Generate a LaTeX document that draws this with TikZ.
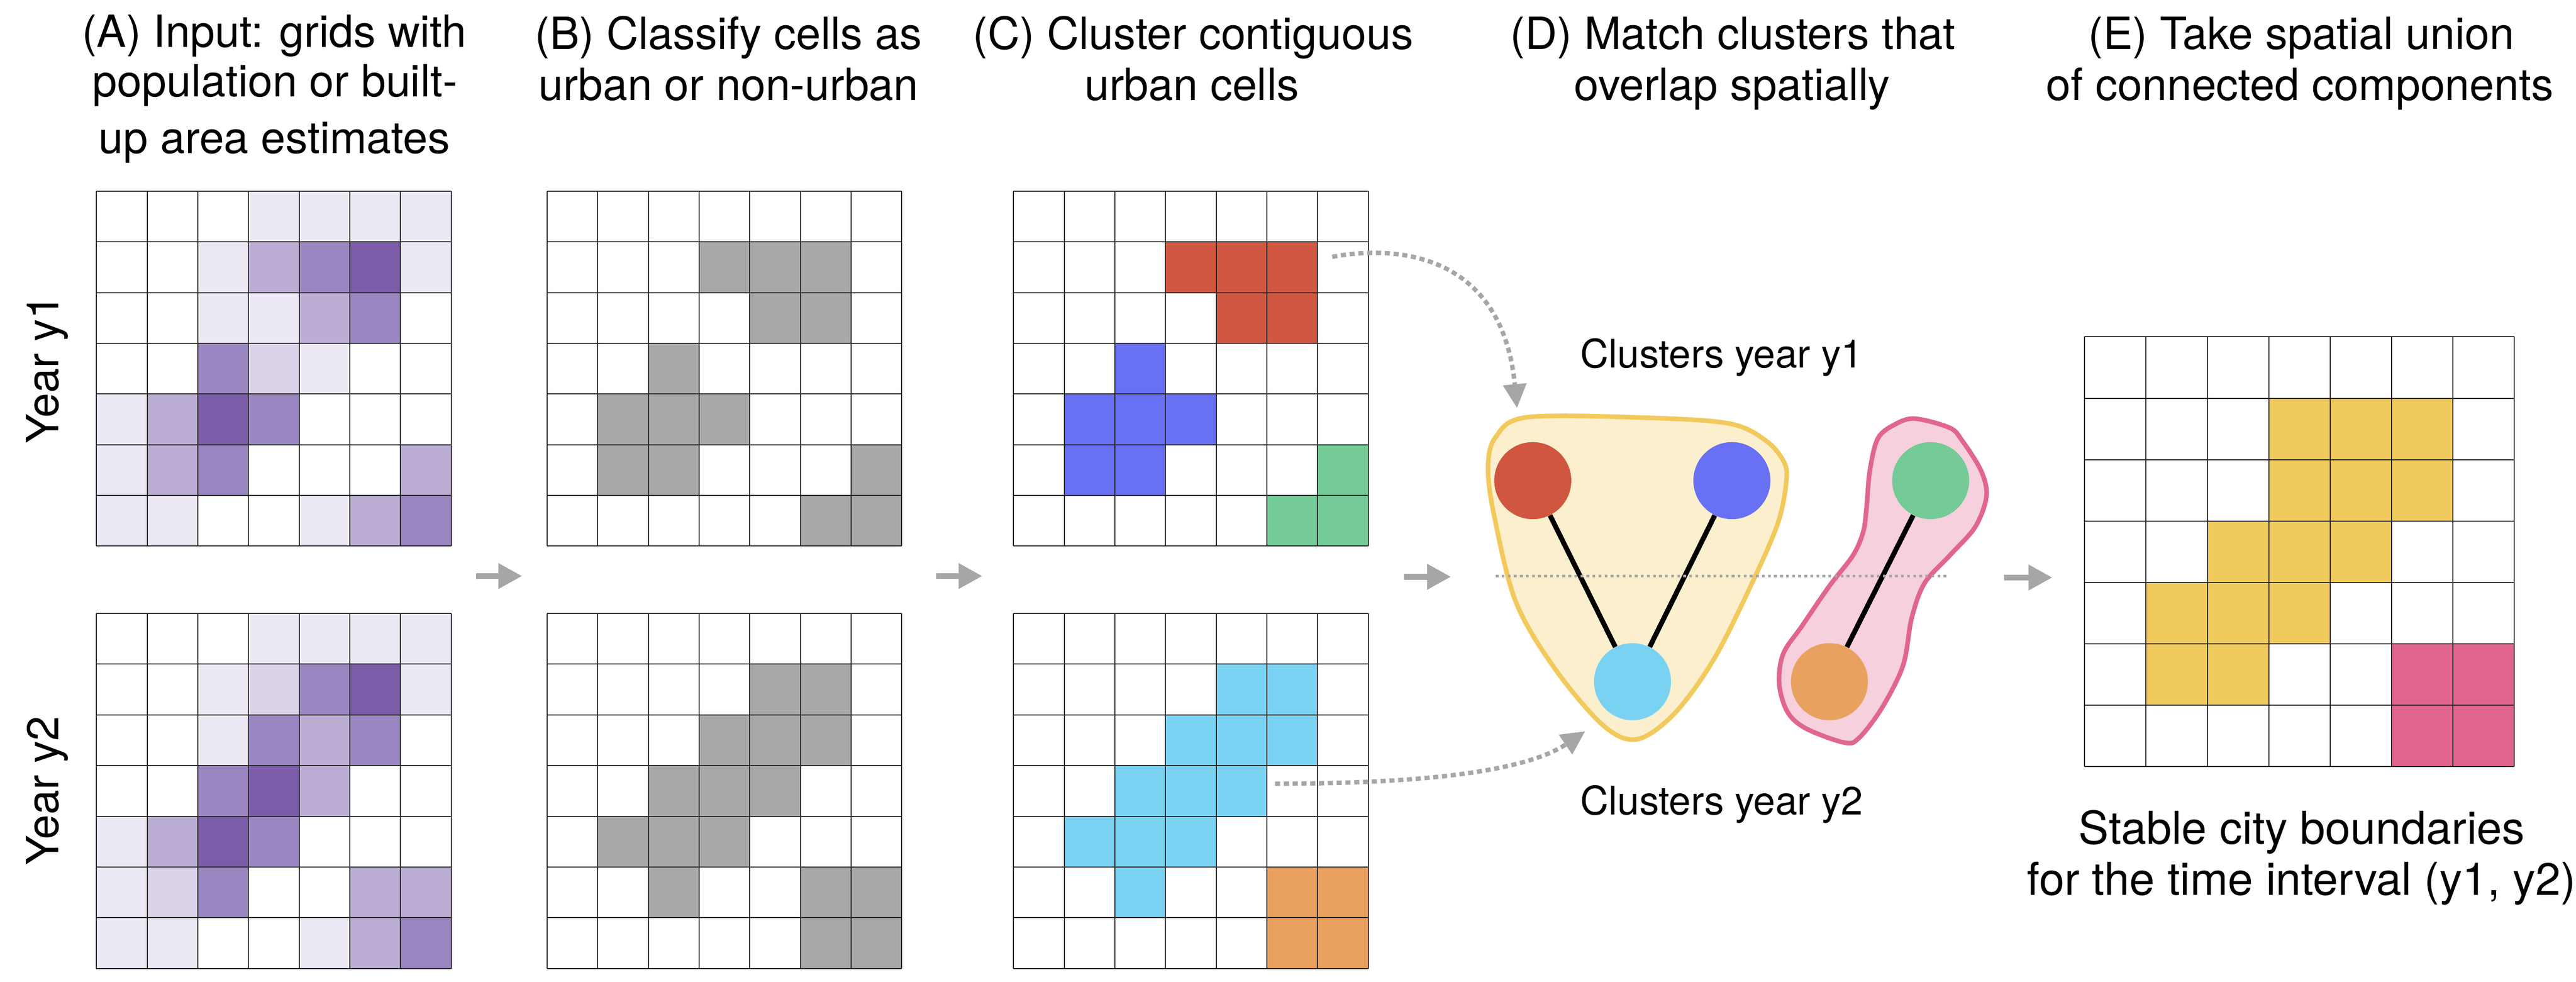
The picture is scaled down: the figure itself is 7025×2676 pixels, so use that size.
\documentclass[tikz,border=0pt]{standalone}
\usepackage{fontspec}
\setmainfont{TeX Gyre Heros}
\usetikzlibrary{arrows.meta}
\definecolor{pA}{HTML}{ECE9F4}
\definecolor{pB}{HTML}{DBD3E9}
\definecolor{pC}{HTML}{BCADD4}
\definecolor{pD}{HTML}{9A86C0}
\definecolor{pE}{HTML}{7B5CA8}
\definecolor{urb}{HTML}{A8A8A8}
\definecolor{cred}{HTML}{D0563F}
\definecolor{cblue}{HTML}{6870F4}
\definecolor{cgreen}{HTML}{74CB98}
\definecolor{ccyan}{HTML}{7AD2F2}
\definecolor{corange}{HTML}{E8A15F}
\definecolor{eyellow}{HTML}{F0CA5D}
\definecolor{epink}{HTML}{E0648E}
\definecolor{yfill}{HTML}{FBEFCD}
\definecolor{ystroke}{HTML}{F2C95C}
\definecolor{kfill}{HTML}{F6D0DC}
\definecolor{kstroke}{HTML}{E0668F}
\definecolor{agray}{HTML}{A6A6A6}
\newcommand\mkcells[4]{\foreach \cc/\rr/\col in {#4}{\fill[\col] ({#1+(\cc-1)*#3},{#2+(\rr-1)*#3}) rectangle ++(#3,#3);}}
\newcommand\mkgrid[3]{\foreach \i in {0,...,7}{\draw[gridline] ({#1+\i*#3},#2) -- ++(0,{7*#3}); \draw[gridline] (#1,{#2+\i*#3}) -- ++({7*#3},0);}}
\begin{document}
\begin{tikzpicture}[x=0.1mm,y=-0.1mm,
  head/.style={font=\fontsize{34.4pt}{41pt}\selectfont, inner sep=0pt, anchor=base},
  clab/.style={font=\fontsize{30.5pt}{36pt}\selectfont, inner sep=0pt, anchor=base},
  elab/.style={font=\fontsize{35.2pt}{42pt}\selectfont, inner sep=0pt, anchor=base},
  yearlab/.style={font=\fontsize{34.5pt}{40pt}\selectfont, inner sep=0pt, rotate=90},
  gridline/.style={draw=black!85, line width=0.28mm},
  bigarrow/.style={draw=agray, line width=1.6mm, -{Triangle[length=6.5mm,width=6.6mm]}},
  curvearrow/.style={draw=agray, line width=1.2mm, dash pattern=on 1.4mm off 1.0mm, -{Triangle[length=6.5mm,width=6.2mm]}},
  dotline/.style={draw=agray, line width=0.75mm, dash pattern=on 0.75mm off 0.9mm},
  dot/.style={circle, minimum size=21mm, inner sep=0pt},
  link/.style={draw=black, line width=1.35mm}
]
\useasboundingbox (0,0) rectangle (7025,2676);

% headings
\node[head] (hA1) at (748,128) {(A) Input: grids with};
\node[head] (hA2) at (750,264) {population or built-};
\node[head] (hA3) at (748,418) {up area estimates};
\node[head] (hB1) at (1987,134) {(B) Classify cells as};
\node[head] (hB2) at (1987,273) {urban or non-urban};
\node[head] (hC1) at (3254,134) {(C) Cluster contiguous};
\node[head] (hC2) at (3250,273) {urban cells};
\node[head] (hD1) at (4726,134) {(D) Match clusters that};
\node[head] (hD2) at (4724,273) {overlap spatially};
\node[head] (hE1) at (6276,134) {(E) Take spatial union};
\node[head] (hE2) at (6272,273) {of connected components};

% year labels
\node[yearlab] (ly1) at (128,1006) {Year y1};
\node[yearlab] (ly2) at (128,2155) {Year y2};

% grid A
\mkcells{263}{521}{138.2}{4/1/pA,5/1/pA,6/1/pA,7/1/pA,3/2/pA,4/2/pC,5/2/pD,6/2/pE,7/2/pA,3/3/pA,4/3/pA,5/3/pC,6/3/pD,3/4/pD,4/4/pB,5/4/pA,1/5/pA,2/5/pC,3/5/pE,4/5/pD,1/6/pA,2/6/pC,3/6/pD,7/6/pC,1/7/pA,2/7/pA,5/7/pA,6/7/pC,7/7/pD}
\mkgrid{263}{521}{138.2}
\mkcells{263}{1672}{138.2}{4/1/pA,5/1/pA,6/1/pA,7/1/pA,3/2/pA,4/2/pB,5/2/pD,6/2/pE,7/2/pA,3/3/pA,4/3/pD,5/3/pC,6/3/pD,3/4/pD,4/4/pE,5/4/pC,1/5/pA,2/5/pC,3/5/pE,4/5/pD,1/6/pA,2/6/pB,3/6/pD,6/6/pC,7/6/pC,1/7/pA,2/7/pA,5/7/pA,6/7/pC,7/7/pD}
\mkgrid{263}{1672}{138.2}

% grid B
\mkcells{1492}{521}{138.2}{4/2/urb,5/2/urb,6/2/urb,5/3/urb,6/3/urb,3/4/urb,2/5/urb,3/5/urb,4/5/urb,2/6/urb,3/6/urb,7/6/urb,6/7/urb,7/7/urb}
\mkgrid{1492}{521}{138.2}
\mkcells{1492}{1672}{138.2}{5/2/urb,6/2/urb,4/3/urb,5/3/urb,6/3/urb,3/4/urb,4/4/urb,5/4/urb,2/5/urb,3/5/urb,4/5/urb,3/6/urb,6/6/urb,7/6/urb,6/7/urb,7/7/urb}
\mkgrid{1492}{1672}{138.2}

% grid C
\mkcells{2764}{521}{138.2}{4/2/cred,5/2/cred,6/2/cred,5/3/cred,6/3/cred,3/4/cblue,2/5/cblue,3/5/cblue,4/5/cblue,2/6/cblue,3/6/cblue,7/6/cgreen,6/7/cgreen,7/7/cgreen}
\mkgrid{2764}{521}{138.2}
\mkcells{2764}{1672}{138.2}{5/2/ccyan,6/2/ccyan,4/3/ccyan,5/3/ccyan,6/3/ccyan,3/4/ccyan,4/4/ccyan,5/4/ccyan,2/5/ccyan,3/5/ccyan,4/5/ccyan,3/6/ccyan,6/6/corange,7/6/corange,6/7/corange,7/7/corange}
\mkgrid{2764}{1672}{138.2}

% grid E
\mkcells{5685}{918}{167.4}{4/2/eyellow,5/2/eyellow,6/2/eyellow,4/3/eyellow,5/3/eyellow,6/3/eyellow,3/4/eyellow,4/4/eyellow,5/4/eyellow,2/5/eyellow,3/5/eyellow,4/5/eyellow,2/6/eyellow,3/6/eyellow,6/6/epink,7/6/epink,6/7/epink,7/7/epink}
\mkgrid{5685}{918}{167.4}

% panel arrows
\coordinate (a1s) at (1298,1570); \coordinate (a1e) at (1424,1570);
\coordinate (a2s) at (2553,1570); \coordinate (a2e) at (2679,1570);
\coordinate (a3s) at (3828,1572); \coordinate (a3e) at (3957,1572);
\coordinate (a4s) at (5466,1574); \coordinate (a4e) at (5597,1574);
\draw[bigarrow] (a1s) -- (a1e);
\draw[bigarrow] (a2s) -- (a2e);
\draw[bigarrow] (a3s) -- (a3e);
\draw[bigarrow] (a4s) -- (a4e);

% blobs
\draw[fill=yfill, draw=ystroke, line width=1.25mm] plot[smooth cycle, tension=0.55] coordinates {(4166,1137) (4502,1139) (4719,1155) (4817,1202) (4866,1261) (4871,1316) (4849,1424) (4784,1576) (4676,1793) (4567,1944) (4464,2015) (4372,1977) (4242,1825) (4134,1641) (4074,1402) (4058,1272) (4079,1191)};
\draw[fill=kfill, draw=kstroke, line width=1.25mm] plot[smooth cycle, tension=0.55] coordinates {(5222,1141) (5317,1166) (5351,1201) (5403,1284) (5417,1354) (5386,1437) (5317,1514) (5248,1590) (5213,1686) (5190,1813) (5133,1928) (5070,2011) (5030,2024) (4926,1986) (4875,1941) (4852,1864) (4863,1782) (4915,1705) (4989,1597) (5053,1514) (5081,1450) (5090,1386) (5099,1284) (5121,1195) (5167,1157)};

% cluster nodes
\node[dot, fill=cred] (nr) at (4180,1310) {};
\node[dot, fill=cblue] (nb) at (4723,1310) {};
\node[dot, fill=ccyan] (nc) at (4452,1858) {};
\node[dot, fill=cgreen] (ng) at (5265,1310) {};
\node[dot, fill=corange] (no) at (4989,1858) {};
\draw[link] (nr) -- (nc);
\draw[link] (nb) -- (nc);
\draw[link] (ng) -- (no);

% dotted line
\coordinate (dl0) at (4079,1570); \coordinate (dl1) at (5315,1570);
\draw[dotline] (dl0) -- (dl1);

% curved arrows
\coordinate (t0) at (3633,700); \coordinate (t1) at (4137,1112);
\draw[curvearrow] (t0) .. controls (3850,660) and (4100,720) .. (t1);
\coordinate (u0) at (3477,2136); \coordinate (u1) at (4323,1993);
\draw[curvearrow] (u0) .. controls (3950,2136) and (4180,2090) .. (u1);

% labels
\node[clab] (ly1c) at (4695,1003) {Clusters year y1};
\node[clab] (ly2c) at (4695,2221) {Clusters year y2};
\node[elab] (le1) at (6277,2300) {Stable city boundaries};
\node[elab] (le2) at (6276,2440) {for the time interval (y1, y2)};
\end{tikzpicture}
\end{document}
